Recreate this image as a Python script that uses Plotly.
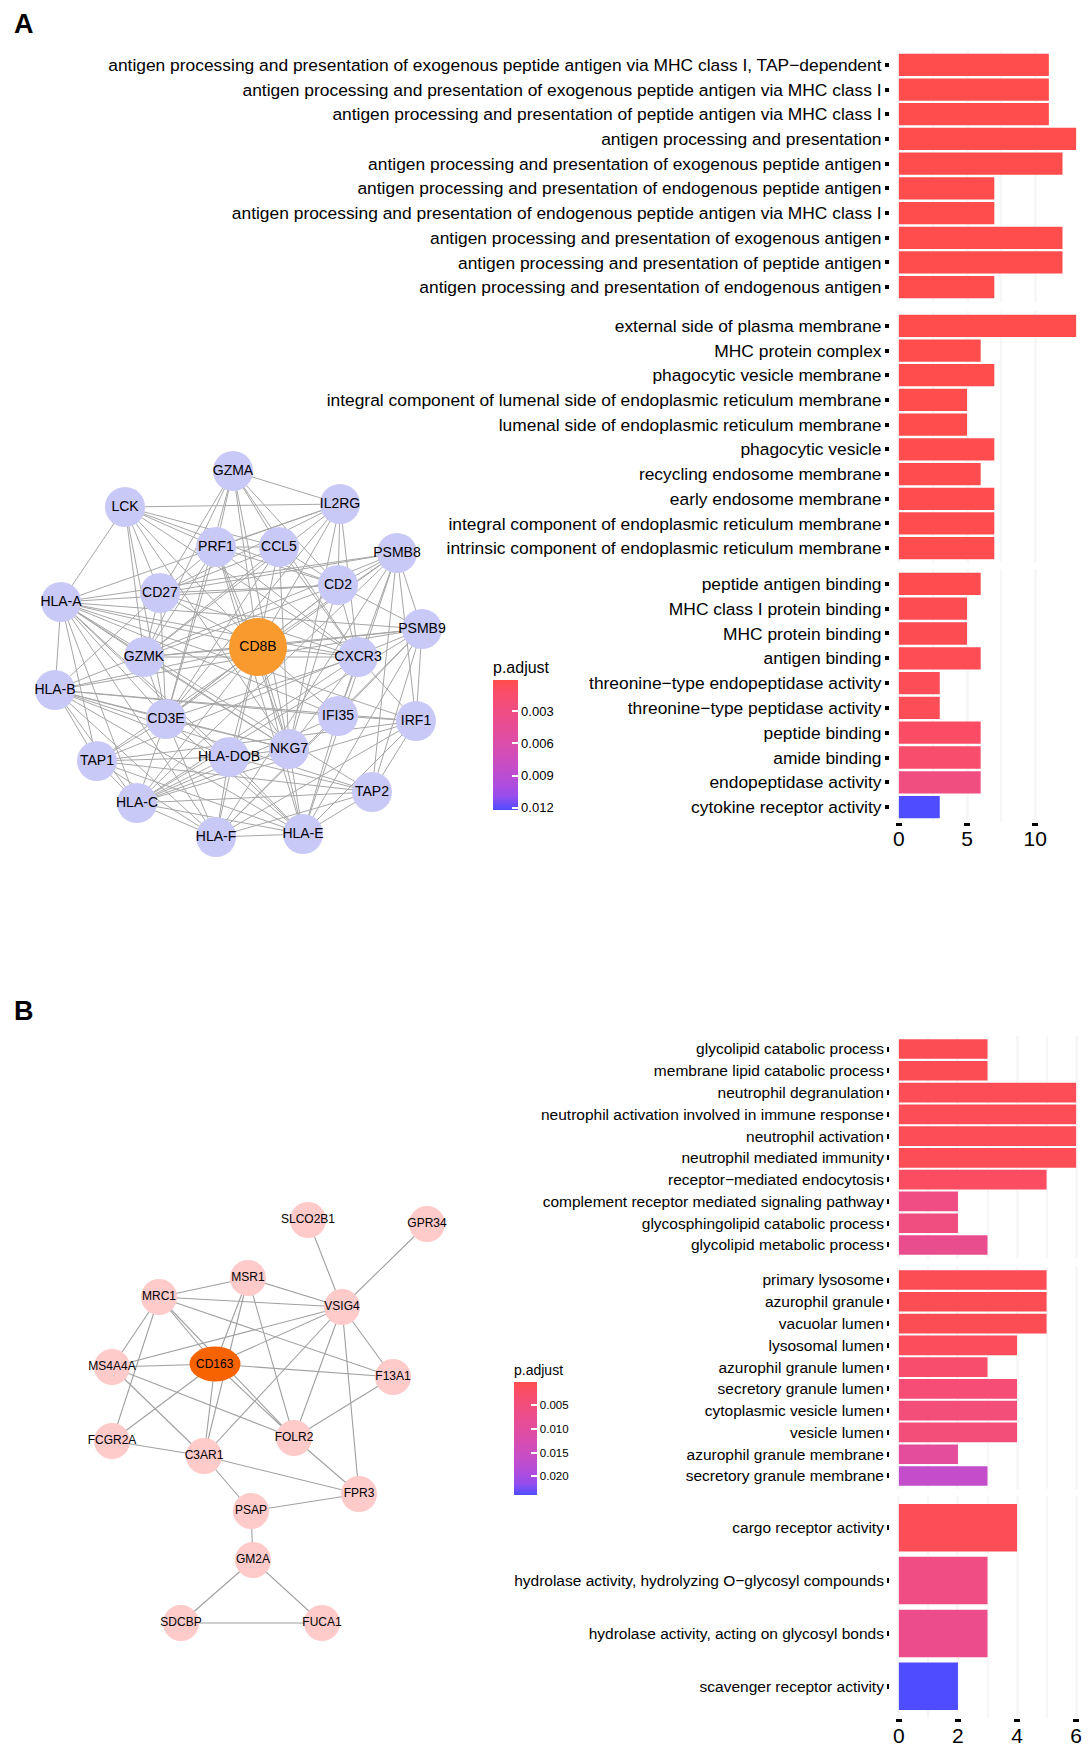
import plotly.graph_objects as go

W, H = 1091, 1750
FONT = "Liberation Sans, Arial, sans-serif"

# ---------------- Panel A: enrichment data ----------------
a_bp_terms = [
    "antigen processing and presentation of exogenous peptide antigen via MHC class I, TAP\u2212dependent",
    "antigen processing and presentation of exogenous peptide antigen via MHC class I",
    "antigen processing and presentation of peptide antigen via MHC class I",
    "antigen processing and presentation",
    "antigen processing and presentation of exogenous peptide antigen",
    "antigen processing and presentation of endogenous peptide antigen",
    "antigen processing and presentation of endogenous peptide antigen via MHC class I",
    "antigen processing and presentation of exogenous antigen",
    "antigen processing and presentation of peptide antigen",
    "antigen processing and presentation of endogenous antigen",
]
a_bp_count = [11, 11, 11, 13, 12, 7, 7, 12, 12, 7]
a_bp_padj = [0.0001, 0.0001, 0.0001, 0.0001, 0.0001, 0.0001, 0.0001, 0.0001, 0.0001, 0.0001]

a_cc_terms = [
    "external side of plasma membrane",
    "MHC protein complex",
    "phagocytic vesicle membrane",
    "integral component of lumenal side of endoplasmic reticulum membrane",
    "lumenal side of endoplasmic reticulum membrane",
    "phagocytic vesicle",
    "recycling endosome membrane",
    "early endosome membrane",
    "integral component of endoplasmic reticulum membrane",
    "intrinsic component of endoplasmic reticulum membrane",
]
a_cc_count = [13, 6, 7, 5, 5, 7, 6, 7, 7, 7]
a_cc_padj = [0.0001, 0.0001, 0.0001, 0.0001, 0.0001, 0.0002, 0.0002, 0.0002, 0.0002, 0.0002]

a_mf_terms = [
    "peptide antigen binding",
    "MHC class I protein binding",
    "MHC protein binding",
    "antigen binding",
    "threonine\u2212type endopeptidase activity",
    "threonine\u2212type peptidase activity",
    "peptide binding",
    "amide binding",
    "endopeptidase activity",
    "cytokine receptor activity",
]
a_mf_count = [6, 5, 5, 6, 3, 3, 6, 6, 6, 3]
a_mf_padj = [0.0002, 0.0003, 0.0003, 0.0004, 0.0005, 0.0005, 0.0011, 0.0015, 0.0028, 0.0122]

a_cb_min, a_cb_max = 0.0001, 0.0122
a_cb_ticks = [0.003, 0.006, 0.009, 0.012]
a_cb_text = ["0.003", "0.006", "0.009", "0.012"]
a_xticks = [0, 5, 10]

# ---------------- Panel B: enrichment data ----------------
b_bp_terms = [
    "glycolipid catabolic process",
    "membrane lipid catabolic process",
    "neutrophil degranulation",
    "neutrophil activation involved in immune response",
    "neutrophil activation",
    "neutrophil mediated immunity",
    "receptor\u2212mediated endocytosis",
    "complement receptor mediated signaling pathway",
    "glycosphingolipid catabolic process",
    "glycolipid metabolic process",
]
b_bp_count = [3, 3, 6, 6, 6, 6, 5, 2, 2, 3]
b_bp_padj = [0.0008, 0.0008, 0.0010, 0.0010, 0.0010, 0.0010, 0.0018, 0.0060, 0.0055, 0.0075]

b_cc_terms = [
    "primary lysosome",
    "azurophil granule",
    "vacuolar lumen",
    "lysosomal lumen",
    "azurophil granule lumen",
    "secretory granule lumen",
    "cytoplasmic vesicle lumen",
    "vesicle lumen",
    "azurophil granule membrane",
    "secretory granule membrane",
]
b_cc_count = [5, 5, 5, 4, 3, 4, 4, 4, 2, 3]
b_cc_padj = [0.0008, 0.0008, 0.0008, 0.0015, 0.0030, 0.0040, 0.0045, 0.0045, 0.0095, 0.0165]

b_mf_terms = [
    "cargo receptor activity",
    "hydrolase activity, hydrolyzing O\u2212glycosyl compounds",
    "hydrolase activity, acting on glycosyl bonds",
    "scavenger receptor activity",
]
b_mf_count = [4, 3, 3, 2]
b_mf_padj = [0.0010, 0.0060, 0.0070, 0.0239]

b_cb_min, b_cb_max = 0.0002, 0.0239
b_cb_ticks = [0.005, 0.010, 0.015, 0.020]
b_cb_text = ["0.005", "0.010", "0.015", "0.020"]
b_xticks = [0, 2, 4, 6]

# ---------------- Networks ----------------
a_nodes = ["GZMA", "LCK", "IL2RG", "PRF1", "CCL5", "PSMB8", "CD2", "CD27", "HLA-A", "PSMB9",
           "CD8B", "GZMK", "CXCR3", "HLA-B", "CD3E", "IFI35", "IRF1", "TAP1", "HLA-DOB", "NKG7",
           "TAP2", "HLA-C", "HLA-F", "HLA-E"]
a_node_x = [233, 125, 340, 216, 279, 397, 338, 160, 61, 422, 258, 144, 358, 55, 166, 338, 416,
            97, 229, 289, 372, 137, 216, 303]
a_node_y = [471, 507, 504, 547, 547, 553, 585, 593, 602, 629, 647, 657, 657, 690, 719, 716, 721,
            761, 757, 749, 792, 803, 837, 834]
a_hub = "CD8B"
a_edges = [
    ("CD8B", "GZMA"), ("CD8B", "LCK"), ("CD8B", "IL2RG"), ("CD8B", "PRF1"), ("CD8B", "CCL5"),
    ("CD8B", "CD2"), ("CD8B", "CD27"), ("CD8B", "GZMK"), ("CD8B", "CXCR3"), ("CD8B", "CD3E"),
    ("CD8B", "NKG7"), ("CD8B", "HLA-A"), ("CD8B", "HLA-B"), ("CD8B", "HLA-C"), ("CD8B", "HLA-E"),
    ("CD8B", "HLA-F"), ("CD8B", "PSMB9"), ("CD8B", "HLA-DOB"), ("CD8B", "IFI35"),
    ("GZMA", "PRF1"), ("GZMA", "CCL5"), ("GZMA", "CD2"), ("GZMA", "CD27"), ("GZMA", "GZMK"),
    ("GZMA", "CD3E"), ("GZMA", "NKG7"), ("GZMA", "CXCR3"), ("GZMA", "IL2RG"),
    ("LCK", "IL2RG"), ("LCK", "PRF1"), ("LCK", "CCL5"), ("LCK", "CD2"), ("LCK", "CD27"),
    ("LCK", "GZMK"), ("LCK", "CD3E"), ("LCK", "CXCR3"), ("LCK", "HLA-A"), ("LCK", "NKG7"),
    ("IL2RG", "PRF1"), ("IL2RG", "CD2"), ("IL2RG", "CD27"), ("IL2RG", "CD3E"), ("IL2RG", "CXCR3"),
    ("IL2RG", "HLA-A"), ("IL2RG", "NKG7"), ("IL2RG", "GZMK"),
    ("PRF1", "CCL5"), ("PRF1", "CD2"), ("PRF1", "CD27"), ("PRF1", "GZMK"), ("PRF1", "CD3E"),
    ("PRF1", "NKG7"), ("PRF1", "CXCR3"), ("PRF1", "HLA-E"),
    ("CCL5", "CD2"), ("CCL5", "CD27"), ("CCL5", "GZMK"), ("CCL5", "CD3E"), ("CCL5", "NKG7"),
    ("CCL5", "CXCR3"),
    ("CD2", "CD27"), ("CD2", "GZMK"), ("CD2", "CD3E"), ("CD2", "NKG7"), ("CD2", "CXCR3"),
    ("CD2", "HLA-A"), ("CD2", "PSMB8"), ("CD2", "PSMB9"),
    ("CD27", "GZMK"), ("CD27", "CD3E"), ("CD27", "CXCR3"), ("CD27", "PSMB8"), ("CD27", "HLA-B"),
    ("GZMK", "CD3E"), ("GZMK", "NKG7"), ("GZMK", "CXCR3"), ("GZMK", "PSMB9"), ("GZMK", "HLA-A"),
    ("CD3E", "NKG7"), ("CD3E", "CXCR3"), ("CD3E", "HLA-A"), ("CD3E", "HLA-B"), ("CD3E", "HLA-C"),
    ("CD3E", "HLA-E"), ("CD3E", "HLA-F"), ("CD3E", "TAP1"), ("CD3E", "PSMB8"),
    ("NKG7", "CXCR3"), ("NKG7", "HLA-E"), ("NKG7", "HLA-C"), ("NKG7", "HLA-A"), ("NKG7", "HLA-B"),
    ("CXCR3", "HLA-A"), ("CXCR3", "IFI35"), ("CXCR3", "IRF1"), ("CXCR3", "HLA-C"),
    ("HLA-A", "HLA-B"), ("HLA-A", "HLA-C"), ("HLA-A", "HLA-E"), ("HLA-A", "HLA-F"),
    ("HLA-A", "TAP1"), ("HLA-A", "TAP2"), ("HLA-A", "PSMB8"), ("HLA-A", "PSMB9"),
    ("HLA-A", "IRF1"), ("HLA-A", "IFI35"), ("HLA-A", "HLA-DOB"),
    ("HLA-B", "HLA-C"), ("HLA-B", "HLA-E"), ("HLA-B", "HLA-F"), ("HLA-B", "TAP1"),
    ("HLA-B", "TAP2"), ("HLA-B", "PSMB8"), ("HLA-B", "PSMB9"), ("HLA-B", "IRF1"),
    ("HLA-B", "IFI35"), ("HLA-B", "HLA-DOB"),
    ("HLA-C", "HLA-E"), ("HLA-C", "HLA-F"), ("HLA-C", "TAP1"), ("HLA-C", "TAP2"),
    ("HLA-C", "PSMB8"), ("HLA-C", "PSMB9"), ("HLA-C", "IRF1"), ("HLA-C", "IFI35"),
    ("HLA-C", "HLA-DOB"),
    ("HLA-E", "HLA-F"), ("HLA-E", "TAP1"), ("HLA-E", "TAP2"), ("HLA-E", "PSMB8"),
    ("HLA-E", "PSMB9"), ("HLA-E", "IRF1"), ("HLA-E", "IFI35"), ("HLA-E", "HLA-DOB"),
    ("HLA-F", "TAP1"), ("HLA-F", "TAP2"), ("HLA-F", "PSMB8"), ("HLA-F", "PSMB9"),
    ("HLA-F", "IRF1"), ("HLA-F", "IFI35"), ("HLA-F", "HLA-DOB"),
    ("TAP1", "TAP2"), ("TAP1", "PSMB8"), ("TAP1", "PSMB9"), ("TAP1", "IRF1"), ("TAP1", "HLA-DOB"),
    ("TAP2", "PSMB8"), ("TAP2", "PSMB9"), ("TAP2", "IRF1"), ("TAP2", "HLA-DOB"),
    ("PSMB8", "PSMB9"), ("PSMB8", "IRF1"), ("PSMB8", "IFI35"),
    ("PSMB9", "IRF1"), ("PSMB9", "IFI35"), ("IRF1", "IFI35"), ("HLA-DOB", "NKG7"),
]

b_nodes = ["SLCO2B1", "GPR34", "MSR1", "MRC1", "VSIG4", "MS4A4A", "CD163", "F13A1", "FCGR2A",
           "FOLR2", "C3AR1", "FPR3", "PSAP", "GM2A", "SDCBP", "FUCA1"]
b_node_x = [308, 427, 248, 159, 342, 112, 215, 393, 112, 294, 204, 359, 251, 253, 181, 322]
b_node_y = [1220, 1224, 1278, 1297, 1307, 1367, 1364, 1377, 1441, 1438, 1456, 1494, 1511, 1560,
            1623, 1623]
b_hub = "CD163"
b_edges = [
    ("SLCO2B1", "VSIG4"), ("GPR34", "VSIG4"), ("MSR1", "MRC1"), ("MSR1", "VSIG4"),
    ("MSR1", "CD163"), ("MSR1", "C3AR1"), ("MSR1", "FOLR2"), ("MRC1", "VSIG4"),
    ("MRC1", "F13A1"), ("MRC1", "CD163"), ("MRC1", "FOLR2"), ("MRC1", "MS4A4A"),
    ("MRC1", "FCGR2A"), ("VSIG4", "MS4A4A"), ("VSIG4", "CD163"), ("VSIG4", "C3AR1"),
    ("VSIG4", "FOLR2"), ("VSIG4", "F13A1"), ("VSIG4", "FPR3"), ("MS4A4A", "CD163"),
    ("MS4A4A", "FOLR2"), ("MS4A4A", "C3AR1"), ("CD163", "F13A1"), ("CD163", "FCGR2A"),
    ("CD163", "C3AR1"), ("CD163", "FOLR2"), ("F13A1", "FOLR2"), ("FCGR2A", "C3AR1"),
    ("C3AR1", "FPR3"), ("C3AR1", "PSAP"), ("FOLR2", "FPR3"), ("FPR3", "PSAP"),
    ("PSAP", "GM2A"), ("GM2A", "SDCBP"), ("GM2A", "FUCA1"), ("SDCBP", "FUCA1"),
]

# ---------------- colour scale (red -> blue in Lab, alpha 0.7 on white) ----------------
def lab2rgb(L, a, b):
    fy = (L + 16) / 116.0
    fx = fy + a / 500.0
    fz = fy - b / 200.0

    def finv(t):
        return t ** 3 if t ** 3 > 0.008856 else (t - 16 / 116.0) / 7.787

    X, Y, Z = 0.95047 * finv(fx), finv(fy), 1.08883 * finv(fz)
    lin = [3.2406 * X - 1.5372 * Y - 0.4986 * Z,
           -0.9689 * X + 1.8758 * Y + 0.0415 * Z,
           0.0557 * X - 0.2040 * Y + 1.0570 * Z]
    out = []
    for c in lin:
        c = max(0.0, min(1.0, c))
        c = 12.92 * c if c <= 0.0031308 else 1.055 * c ** (1 / 2.4) - 0.055
        out.append(c)
    return out


RED_LAB = (53.24, 80.09, 67.20)
BLUE_LAB = (32.30, 79.19, -107.86)
ALPHA = 0.7
colorscale = []
for i in range(11):
    t = i / 10.0  # 0 -> blue (high p), 1 -> red (low p)
    L = BLUE_LAB[0] + (RED_LAB[0] - BLUE_LAB[0]) * t
    A_ = BLUE_LAB[1] + (RED_LAB[1] - BLUE_LAB[1]) * t
    B_ = BLUE_LAB[2] + (RED_LAB[2] - BLUE_LAB[2]) * t
    rgb = lab2rgb(L, A_, B_)
    rgb = [round(255 * (ALPHA * c + (1 - ALPHA))) for c in rgb]
    colorscale.append([t, "rgb(%d,%d,%d)" % tuple(rgb)])


def py(px):
    return 1 - px / H


def pxw(px):
    return px / W


fig = go.Figure()

# ---------------- bar facets ----------------
facets = [
    (a_bp_terms, a_bp_count, a_bp_padj, "x", "y", (50, 302), "A", False),
    (a_cc_terms, a_cc_count, a_cc_padj, "x", "y2", (311, 563), "A", False),
    (a_mf_terms, a_mf_count, a_mf_padj, "x", "y3", (569, 822), "A", True),
    (b_bp_terms, b_bp_count, b_bp_padj, "x2", "y4", (1036, 1258), "B", False),
    (b_cc_terms, b_cc_count, b_cc_padj, "x2", "y5", (1267, 1489), "B", False),
    (b_mf_terms, b_mf_count, b_mf_padj, "x2", "y6", (1496, 1718), "B", True),
]

for terms, counts, padj, xa, ya, dom, panel, show_cb in facets:
    if panel == "A":
        cmin, cmax = -a_cb_max, -a_cb_min
        cb = dict(
            title=dict(text="p.adjust", side="top", font=dict(size=16, family=FONT, color="black")),
            x=pxw(493), xanchor="left", y=py(810), yanchor="bottom",
            lenmode="pixels", len=152, thickness=25, thicknessmode="pixels",
            xpad=0, ypad=0, outlinewidth=0,
            tickmode="array", tickvals=[-v for v in a_cb_ticks], ticktext=a_cb_text,
            ticks="inside", ticklen=6, tickwidth=2, tickcolor="white",
            tickfont=dict(size=13, family=FONT, color="black"),
        )
        tfs, tlen, twid = 17.4, 4, 4
    else:
        cmin, cmax = -b_cb_max, -b_cb_min
        cb = dict(
            title=dict(text="p.adjust", side="top", font=dict(size=14, family=FONT, color="black")),
            x=pxw(514), xanchor="left", y=py(1495), yanchor="bottom",
            lenmode="pixels", len=134, thickness=23, thicknessmode="pixels",
            xpad=0, ypad=0, outlinewidth=0,
            tickmode="array", tickvals=[-v for v in b_cb_ticks], ticktext=b_cb_text,
            ticks="inside", ticklen=6, tickwidth=2, tickcolor="white",
            tickfont=dict(size=11.5, family=FONT, color="black"),
        )
        tfs, tlen, twid = 15.5, 2, 5
    fig.add_trace(go.Bar(
        y=terms, x=counts, orientation="h",
        xaxis=xa, yaxis=ya,
        marker=dict(color=[-p for p in padj], colorscale=colorscale, cmin=cmin, cmax=cmax,
                    showscale=show_cb, colorbar=cb if show_cb else None,
                    line=dict(width=0)),
        showlegend=False, hoverinfo="x+y",
    ))
    n = len(terms)
    yname = "yaxis" if ya == "y" else "yaxis" + ya[1:]
    fig.layout[yname] = dict(
        domain=[py(dom[1]), py(dom[0])], anchor=xa,
        type="category", categoryorder="array", categoryarray=terms,
        range=[n - 0.4, -0.6],
        tickfont=dict(size=tfs, family=FONT, color="black"),
        ticks="outside", ticklen=tlen, tickwidth=twid, tickcolor="black",
        showgrid=False, zeroline=False, showline=False, fixedrange=True,
    )

grid_col = "rgba(0,0,0,0.03)"
fig.update_layout(
    xaxis=dict(
        domain=[pxw(890), pxw(1085)], anchor="y3", range=[-0.65, 13.65],
        tickmode="array", tickvals=a_xticks,
        ticks="outside", ticklen=3, tickwidth=6, tickcolor="black",
        tickfont=dict(size=21, family=FONT, color="black"), ticklabelstandoff=-5,
        showgrid=True, gridcolor=grid_col, gridwidth=3,
        minor=dict(tickmode="array", tickvals=[2.5, 7.5], showgrid=True,
                   gridcolor=grid_col, gridwidth=2, ticks=""),
        zeroline=False, showline=False, layer="above traces", fixedrange=True,
    ),
    xaxis2=dict(
        domain=[pxw(890), pxw(1085)], anchor="y6", range=[-0.3, 6.3],
        tickmode="array", tickvals=b_xticks,
        ticks="outside", ticklen=3, tickwidth=6, tickcolor="black",
        tickfont=dict(size=21, family=FONT, color="black"), ticklabelstandoff=-4,
        showgrid=True, gridcolor=grid_col, gridwidth=3,
        minor=dict(tickmode="array", tickvals=[1, 3, 5], showgrid=True,
                   gridcolor=grid_col, gridwidth=2, ticks=""),
        zeroline=False, showline=False, layer="above traces", fixedrange=True,
    ),
)

# ---------------- networks ----------------
fig.update_layout(
    xaxis3=dict(domain=[0, 1], range=[0, W], visible=False, anchor="y7", fixedrange=True),
    yaxis7=dict(domain=[0, 1], range=[H, 0], visible=False, anchor="x3", fixedrange=True),
)


def edge_xy(nodes, xs, ys, edges):
    pos = {n: (x, y) for n, x, y in zip(nodes, xs, ys)}
    ex, ey = [], []
    for s, t in edges:
        ex += [pos[s][0], pos[t][0], None]
        ey += [pos[s][1], pos[t][1], None]
    return ex, ey, pos


# Panel A network
ex, ey, a_pos = edge_xy(a_nodes, a_node_x, a_node_y, a_edges)
fig.add_trace(go.Scatter(x=ex, y=ey, mode="lines", xaxis="x3", yaxis="y7",
                         line=dict(color="#a6a6a6", width=1.0), hoverinfo="skip",
                         showlegend=False))
fig.add_trace(go.Scatter(
    x=a_node_x, y=a_node_y, mode="markers+text", xaxis="x3", yaxis="y7",
    text=a_nodes, textposition="middle center",
    textfont=dict(size=14, family=FONT, color="black"),
    marker=dict(size=[58 if n == a_hub else 40 for n in a_nodes],
                color=["#F99A2F" if n == a_hub else "#C9C9F8" for n in a_nodes],
                opacity=1, line=dict(width=0)),
    showlegend=False, hoverinfo="text",
))

# Panel B network
ex, ey, b_pos = edge_xy(b_nodes, b_node_x, b_node_y, b_edges)
fig.add_trace(go.Scatter(x=ex, y=ey, mode="lines", xaxis="x3", yaxis="y7",
                         line=dict(color="#a0a0a0", width=1.1), hoverinfo="skip",
                         showlegend=False))
b_plain = [n for n in b_nodes if n != b_hub]
fig.add_trace(go.Scatter(
    x=[b_pos[n][0] for n in b_plain], y=[b_pos[n][1] for n in b_plain],
    mode="markers+text", xaxis="x3", yaxis="y7",
    text=b_plain, textposition="middle center",
    textfont=dict(size=12, family=FONT, color="black"),
    marker=dict(size=36, color="#FFCACA", opacity=1, line=dict(width=0)),
    showlegend=False, hoverinfo="text",
))
hx, hy = b_pos[b_hub]
fig.add_shape(type="circle", xref="x3", yref="y7",
              x0=hx - 25.5, x1=hx + 25.5, y0=hy - 17.5, y1=hy + 17.5,
              fillcolor="#F76300", line=dict(width=0), layer="above")

annotations = [
    dict(text=b_hub, x=hx, y=hy, xref="x3", yref="y7", showarrow=False,
         font=dict(size=12, family=FONT, color="black")),
    dict(text="<b>A</b>", x=pxw(12), y=py(24), xref="paper", yref="paper",
         xanchor="left", yanchor="middle", showarrow=False,
         font=dict(size=27, family=FONT, color="black")),
    dict(text="<b>B</b>", x=pxw(12), y=py(1011), xref="paper", yref="paper",
         xanchor="left", yanchor="middle", showarrow=False,
         font=dict(size=27, family=FONT, color="black")),
]

fig.update_layout(
    width=W, height=H,
    margin=dict(l=0, r=0, t=0, b=0),
    paper_bgcolor="white", plot_bgcolor="rgba(0,0,0,0)",
    bargap=0.1, annotations=annotations,
    font=dict(family=FONT, color="black"),
)

fig.write_html(
    "out.html",
    config={"displayModeBar": False},
    post_script="document.body.style.margin='0';document.body.style.overflow='hidden';",
)
